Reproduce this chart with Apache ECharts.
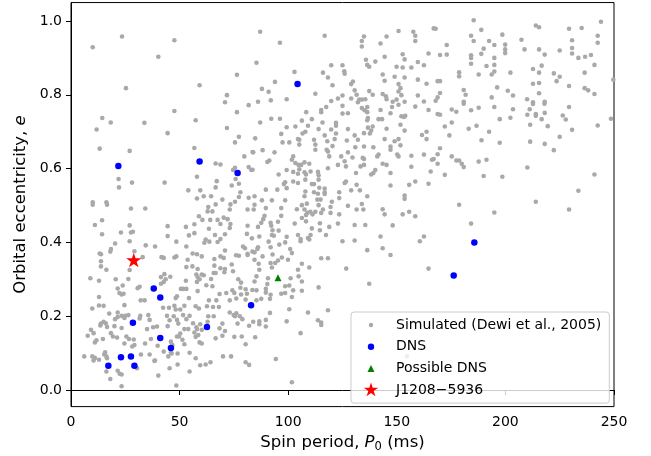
<!DOCTYPE html>
<html><head><meta charset="utf-8">
<script src="https://cdn.jsdelivr.net/npm/echarts@6/dist/echarts.min.js"></script>
<style>html,body{margin:0;padding:0;background:#fff}#c{width:651px;height:456px}</style>
</head><body><div id="c"></div>
<script>
const simulated = [
[10.0,0.929],[23.5,0.958],[47.6,0.948],[40.2,0.903],[76.4,0.854],[59.2,0.826],[25.3,0.818],[71.8,0.799],[70.9,0.780],
[87.1,0.971],[116.8,0.960],[96.2,0.941],[150.8,0.973],[157.6,0.971],[158.5,0.960],[158.5,0.946],[134.9,0.958],[133.9,0.946],[133.9,0.931],[145.3,0.958],[142.5,0.939],[167.0,0.980],[85.4,0.887],[164.6,0.912],[152.7,0.910],[144.4,0.903],[153.6,0.896],[135.8,0.895],[136.4,0.881],[137.3,0.876],[140.1,0.890],[119.8,0.880],[125.0,0.880],[149.9,0.876],[152.7,0.874],[156.7,0.874],[159.7,0.889],[162.5,0.880],[102.9,0.862],[116.0,0.860],[118.3,0.847],[125.8,0.864],[126.0,0.857],[143.5,0.855],[149.0,0.849],[153.6,0.847],[144.4,0.838],[159.7,0.841],[163.7,0.830],[150.8,0.829],[151.7,0.818],[150.8,0.809],[87.9,0.816],[91.0,0.808],[93.9,0.835],[120.4,0.826],[129.0,0.829],[129.8,0.836],[130.6,0.812],[137.3,0.810],[131.5,0.800],[125.0,0.798],[138.9,0.800],[143.5,0.802],[145.0,0.796],[152.1,0.799],[159.7,0.798],[112.5,0.803],[99.3,0.788],[92.0,0.785],[86.1,0.781],[119.8,0.783],[122.9,0.790],[129.0,0.790],[132.7,0.787],[133.9,0.787],[135.5,0.788],[132.1,0.780],[145.3,0.788],[148.1,0.781],[149.9,0.787],[153.6,0.781],[162.5,0.782],
[185.4,1.002],[167.9,0.979],[188.9,0.976],[184.2,0.960],[185.4,0.946],[198.6,0.963],[214.0,0.988],[215.5,0.983],[229.3,0.979],[235.1,0.981],[244.0,0.998],[242.5,0.960],[242.5,0.941],[173.0,0.935],[169.9,0.908],[173.0,0.909],[184.2,0.907],[184.2,0.900],[184.2,0.884],[188.9,0.911],[190.0,0.925],[192.5,0.946],[194.9,0.935],[194.9,0.900],[194.9,0.881],[194.9,0.863],[193.7,0.855],[191.3,0.878],[187.7,0.855],[199.9,0.936],[199.9,0.923],[199.9,0.913],[207.4,0.949],[208.8,0.923],[202.3,0.860],[215.5,0.923],[218.1,0.909],[216.7,0.879],[212.7,0.870],[215.5,0.860],[215.5,0.832],[212.7,0.830],[215.5,0.804],[225.0,0.920],[222.3,0.858],[225.0,0.849],[223.6,0.837],[230.7,0.948],[230.7,0.927],[230.7,0.912],[233.6,0.900],[236.7,0.903],[239.4,0.908],[241.0,0.881],[236.5,0.860],[229.3,0.824],[236.5,0.818],[238.1,0.812],[241.0,0.802],[249.7,0.841],[178.7,0.861],[178.7,0.850],[168.8,0.837],[169.9,0.837],[180.8,0.813],[181.7,0.800],[196.2,0.820],[201.1,0.811],[203.5,0.798],[193.7,0.793],[210.0,0.788],[212.7,0.780],[218.1,0.781],[169.9,0.805],[168.8,0.793],[167.9,0.784],[180.8,0.781],
[47.6,0.756],[14.4,0.737],[18.3,0.725],[11.8,0.706],[33.8,0.724],[44.5,0.696],[57.4,0.731],[71.8,0.710],[76.4,0.753],[81.8,0.772],[77.3,0.686],[75.5,0.671],[13.2,0.654],[27.0,0.648],[56.8,0.656],[79.8,0.633],[83.6,0.645],[66.6,0.614],[68.8,0.611],[75.5,0.602],[74.6,0.596],[81.8,0.604],[83.0,0.596],[58.0,0.578],[75.8,0.572],[67.1,0.566],[77.3,0.559],[74.0,0.554],[21.9,0.572],[22.1,0.549],[28.1,0.562],[43.1,0.562],[54.0,0.541],[59.5,0.541],[66.6,0.549],[78.0,0.536],[77.3,0.523],[61.1,0.525],[64.5,0.525],[58.0,0.519],[69.7,0.516],[75.5,0.510],[81.8,0.521],[16.3,0.509],[10.0,0.509],
[108.3,0.753],[115.2,0.759],[115.2,0.753],[117.5,0.767],[125.0,0.770],[125.0,0.749],[127.5,0.750],[133.9,0.764],[135.2,0.758],[136.4,0.767],[136.4,0.753],[142.5,0.759],[147.8,0.767],[147.1,0.750],[150.8,0.773],[158.5,0.768],[164.6,0.759],[136.7,0.737],[136.4,0.731],[141.6,0.734],[143.2,0.734],[152.1,0.742],[153.3,0.740],[153.9,0.743],[151.7,0.719],[153.6,0.703],[145.3,0.708],[136.7,0.711],[138.9,0.714],[138.2,0.703],[137.6,0.695],[134.9,0.696],[130.6,0.690],[127.5,0.707],[122.0,0.724],[122.0,0.716],[122.0,0.695],[119.8,0.706],[115.8,0.725],[114.0,0.707],[116.8,0.690],[110.9,0.734],[109.1,0.716],[107.9,0.700],[106.6,0.695],[106.3,0.730],[103.3,0.714],[99.3,0.712],[96.2,0.735],[92.2,0.735],[87.1,0.725],[96.8,0.694],[84.8,0.682],[97.4,0.671],[100.5,0.671],[104.5,0.680],[105.1,0.678],[105.1,0.665],[111.9,0.678],[112.5,0.665],[112.5,0.651],[118.0,0.674],[120.4,0.661],[121.4,0.680],[127.0,0.676],[130.9,0.658],[132.1,0.678],[134.9,0.660],[139.2,0.658],[144.4,0.680],[147.1,0.660],[147.1,0.651],[149.0,0.674],[150.8,0.680],[151.7,0.663],[161.6,0.691],[163.7,0.700],[163.7,0.680],[88.2,0.650],[83.9,0.644],[93.7,0.644],[91.3,0.622],[90.4,0.618],[102.3,0.633],[101.7,0.624],[103.3,0.615],[104.8,0.610],[106.0,0.610],[107.5,0.617],[109.7,0.613],[118.3,0.646],[118.9,0.633],[117.7,0.651],[127.5,0.644],[124.4,0.633],[126.0,0.620],[129.6,0.630],[126.6,0.606],[122.9,0.610],[134.3,0.629],[134.9,0.626],[133.3,0.606],[131.2,0.588],[134.9,0.610],[140.1,0.596],[138.2,0.584],[139.2,0.588],[141.0,0.633],[141.6,0.638],[143.5,0.613],[145.3,0.610],[147.1,0.588],[150.2,0.638],[150.8,0.633],[156.7,0.635],[156.7,0.605],[162.5,0.638],[166.2,0.624],[165.6,0.592],[99.3,0.596],[95.6,0.584],[102.3,0.591],[104.5,0.586],[105.1,0.598],[107.5,0.590],[108.2,0.584],[110.3,0.592],[113.7,0.591],[114.0,0.582],[118.3,0.601],[107.9,0.570],[104.5,0.561],[102.3,0.565],[98.6,0.563],[98.0,0.558],[99.3,0.547],[89.7,0.543],[95.0,0.543],[110.9,0.558],[111.9,0.558],[114.0,0.570],[114.3,0.548],[116.8,0.546],[116.8,0.536],[116.8,0.531],[113.7,0.532],[111.9,0.536],[107.9,0.538],[107.5,0.525],[113.4,0.516],[114.9,0.516],[98.6,0.514],[92.5,0.514],[87.9,0.514],[84.5,0.525],[120.1,0.510],[123.5,0.536],[123.5,0.520],[126.0,0.561],[126.6,0.565],[129.0,0.541],[131.5,0.556],[133.0,0.541],[136.4,0.525],[147.1,0.554],[153.6,0.527],[153.6,0.518],[155.7,0.556],[158.5,0.565],[164.6,0.559],[83.6,0.597],
[180.8,0.776],[175.3,0.760],[177.4,0.754],[168.8,0.748],[169.9,0.746],[184.2,0.758],[187.7,0.765],[194.9,0.767],[203.5,0.761],[211.2,0.761],[212.7,0.775],[218.0,0.776],[210.1,0.746],[214.0,0.748],[214.0,0.743],[218.1,0.751],[216.7,0.734],[202.3,0.738],[197.4,0.734],[175.3,0.725],[172.1,0.714],[183.1,0.708],[186.7,0.716],[192.5,0.700],[211.4,0.719],[219.5,0.715],[226.4,0.744],[227.8,0.733],[229.3,0.767],[230.7,0.705],[242.5,0.717],[248.6,0.735],[174.2,0.690],[189.0,0.677],[197.4,0.670],[211.4,0.673],[218.1,0.667],[225.0,0.686],[222.3,0.650],[169.9,0.655],[168.8,0.639],[175.3,0.633],[177.4,0.622],[178.7,0.622],[179.9,0.613],[180.8,0.604],[168.8,0.613],[167.0,0.626],[187.7,0.619],[191.3,0.624],[172.1,0.583],[190.0,0.580],[198.6,0.578],[210.1,0.603],[241.0,0.584],[233.6,0.540],[214.0,0.510],
[10.0,0.502],[16.6,0.502],[27.6,0.492],[34.2,0.492],[14.3,0.460],[11.0,0.447],[27.0,0.446],[28.5,0.429],[27.6,0.427],[23.0,0.427],[14.3,0.422],[44.5,0.444],[44.5,0.417],[20.3,0.397],[18.4,0.382],[18.1,0.375],[27.0,0.403],[34.4,0.392],[38.7,0.389],[29.2,0.376],[13.2,0.370],[13.8,0.368],[13.8,0.349],[13.8,0.335],[16.3,0.326],[33.0,0.360],[27.0,0.325],[41.7,0.360],[42.7,0.358],[47.6,0.359],[48.5,0.362],[8.9,0.303],[12.9,0.296],[20.6,0.300],[26.4,0.301],[23.8,0.283],[21.5,0.275],[22.3,0.263],[23.3,0.259],[24.2,0.261],[30.7,0.276],[31.6,0.280],[12.9,0.252],[32.1,0.243],[33.9,0.243],[41.4,0.306],[43.0,0.314],[42.7,0.293],[43.6,0.300],[45.7,0.307],[41.4,0.288],[48.5,0.402],[52.9,0.442],[54.3,0.419],[56.8,0.449],[56.8,0.425],[53.1,0.389],[56.0,0.370],[58.0,0.368],[60.2,0.362],[53.7,0.353],[53.1,0.333],[55.9,0.335],[58.3,0.328],[57.7,0.313],[58.3,0.306],[59.2,0.300],[58.0,0.293],[60.2,0.313],[61.1,0.311],[62.3,0.284],[58.3,0.268],[52.9,0.296],[51.6,0.274],[53.1,0.274],[54.3,0.249],[48.2,0.249],[62.0,0.408],[61.4,0.399],[63.7,0.402],[67.5,0.401],[66.3,0.420],[63.5,0.437],[64.1,0.461],[58.9,0.471],[60.5,0.461],[63.2,0.496],[65.1,0.484],[62.9,0.484],[68.8,0.409],[70.9,0.422],[70.9,0.378],[68.8,0.362],[66.0,0.355],[70.3,0.358],[66.0,0.337],[68.8,0.330],[65.7,0.317],[66.6,0.317],[70.9,0.328],[74.6,0.322],[70.6,0.319],[74.0,0.340],[76.0,0.365],[77.3,0.364],[79.2,0.389],[80.1,0.384],[81.3,0.366],[81.3,0.369],[83.5,0.375],[81.0,0.423],[81.3,0.445],[84.1,0.489],[81.3,0.489],[73.4,0.450],[73.1,0.439],[70.3,0.467],[72.1,0.463],[73.1,0.489],[68.8,0.450],[67.5,0.461],[66.6,0.503],[73.4,0.503],[77.0,0.300],[78.3,0.291],[78.0,0.277],[80.4,0.273],[81.0,0.261],[83.5,0.271],[78.3,0.259],[75.2,0.263],[74.3,0.270],[71.5,0.263],[68.4,0.260],[66.9,0.243],[63.5,0.243],[80.4,0.245],[76.1,0.248],[73.1,0.243],[65.1,0.281],[64.5,0.301],[50.6,0.274],[48.8,0.254],
[84.5,0.502],[89.7,0.493],[96.8,0.493],[104.0,0.490],[106.3,0.501],[108.6,0.505],[107.5,0.489],[108.8,0.480],[108.2,0.474],[110.2,0.483],[111.2,0.476],[112.5,0.483],[114.0,0.501],[115.2,0.480],[116.0,0.489],[119.5,0.496],[119.5,0.480],[123.5,0.476],[127.5,0.499],[131.5,0.489],[134.6,0.489],[133.9,0.504],[143.5,0.490],[144.4,0.476],[152.7,0.476],[155.7,0.483],[158.5,0.471],[89.1,0.472],[88.5,0.463],[96.8,0.472],[106.3,0.466],[86.1,0.442],[87.6,0.453],[91.9,0.453],[92.2,0.445],[95.3,0.456],[95.6,0.432],[92.8,0.433],[92.5,0.420],[93.4,0.418],[99.3,0.415],[103.0,0.451],[108.2,0.457],[110.9,0.438],[114.6,0.452],[114.6,0.433],[118.9,0.442],[122.9,0.451],[130.6,0.447],[135.5,0.447],[148.1,0.446],[104.5,0.420],[105.7,0.409],[105.7,0.403],[109.1,0.412],[109.7,0.408],[110.3,0.420],[117.4,0.420],[125.0,0.403],[130.6,0.405],[142.5,0.416],[162.5,0.416],[160.6,0.403],[86.7,0.416],[83.3,0.411],[91.0,0.402],[91.9,0.387],[86.1,0.387],[85.8,0.382],[95.9,0.394],[98.6,0.400],[100.9,0.382],[101.7,0.371],[88.2,0.362],[84.5,0.373],[84.5,0.353],[92.8,0.367],[97.1,0.359],[99.9,0.353],[95.3,0.351],[94.0,0.344],[91.9,0.344],[86.4,0.342],[92.5,0.332],[86.7,0.326],[106.3,0.342],[109.7,0.332],[104.5,0.326],[115.2,0.357],[118.3,0.357],[136.4,0.379],[143.5,0.384],[147.1,0.366],[126.7,0.329],[164.6,0.329],[137.3,0.288],[85.4,0.308],[84.5,0.294],[90.7,0.303],[90.4,0.287],[101.1,0.303],[104.8,0.308],[106.3,0.294],[98.6,0.281],[100.5,0.283],[102.3,0.270],[106.3,0.269],[114.0,0.278],[89.7,0.274],[89.7,0.264],[85.4,0.270],[91.9,0.258],[96.8,0.261],[98.6,0.263],[101.7,0.252],[91.6,0.247],[87.6,0.247],[85.4,0.243],
[178.7,0.502],[194.9,0.481],[229.3,0.489],[184.2,0.451],
[9.8,0.221],[12.9,0.229],[15.0,0.228],[17.6,0.207],[21.5,0.210],[24.6,0.230],[21.5,0.198],[20.3,0.192],[23.3,0.201],[24.9,0.201],[24.6,0.195],[26.4,0.203],[31.9,0.201],[31.6,0.194],[35.6,0.203],[36.2,0.190],[15.0,0.185],[13.8,0.180],[16.0,0.181],[13.5,0.175],[16.6,0.171],[20.0,0.173],[23.3,0.168],[9.2,0.163],[10.4,0.154],[7.7,0.147],[18.4,0.154],[19.3,0.145],[14.7,0.138],[11.7,0.135],[11.0,0.129],[21.2,0.142],[25.5,0.145],[26.7,0.138],[24.6,0.126],[28.9,0.137],[28.2,0.118],[29.2,0.122],[35.0,0.165],[34.1,0.126],[37.8,0.170],[39.6,0.172],[42.4,0.223],[45.1,0.223],[44.2,0.201],[47.6,0.228],[48.2,0.218],[47.3,0.200],[45.4,0.189],[44.5,0.173],[48.8,0.190],[49.4,0.180],[50.3,0.218],[52.2,0.228],[51.6,0.203],[53.1,0.192],[54.6,0.201],[50.3,0.153],[49.7,0.145],[51.3,0.136],[48.8,0.145],[52.2,0.165],[54.0,0.165],[56.2,0.181],[57.7,0.170],[58.0,0.165],[59.5,0.178],[60.2,0.163],[58.6,0.149],[57.4,0.144],[56.8,0.156],[59.2,0.129],[60.2,0.126],[52.2,0.124],[46.0,0.131],[46.7,0.122],[42.7,0.104],[46.0,0.102],[44.8,0.091],[46.3,0.099],[49.1,0.099],[54.6,0.101],[57.4,0.086],[32.2,0.096],[36.2,0.096],[38.7,0.080],[36.8,0.138],[39.9,0.120],[45.4,0.059],[49.1,0.069],[54.6,0.050],[48.5,0.012],[40.2,0.039],[59.5,0.067],[62.0,0.069],[64.2,0.075],[57.4,0.227],[58.9,0.221],[62.6,0.227],[65.4,0.225],[68.1,0.225],[63.2,0.200],[65.7,0.200],[62.9,0.185],[69.7,0.180],[68.4,0.167],[70.9,0.160],[66.6,0.140],[69.7,0.147],[73.1,0.210],[74.9,0.203],[76.1,0.208],[75.5,0.200],[77.7,0.200],[76.7,0.180],[82.0,0.174],[78.9,0.192],[78.6,0.145],[75.2,0.144],[80.4,0.124],[70.0,0.091],[73.7,0.091],[80.4,0.075],[82.0,0.068],[6.1,0.091],[9.8,0.091],[11.0,0.087],[10.4,0.080],[12.9,0.082],[15.7,0.102],[16.3,0.091],[16.6,0.086],[15.3,0.096],[16.3,0.050],[21.5,0.052],[22.4,0.044],[23.3,0.042],[18.1,0.030],[23.3,0.010],[30.4,0.059],[38.4,0.079],
[83.9,0.185],[86.7,0.186],[86.7,0.178],[89.7,0.190],[89.7,0.172],[91.6,0.209],[100.5,0.219],[99.3,0.186],[109.1,0.210],[118.3,0.216],[113.7,0.189],[115.2,0.183],[115.2,0.176],[105.7,0.154],[84.8,0.143],[94.3,0.084],[101.7,0.021],[154.7,0.091]
];
const dns = [[104.3,0.829],[21.8,0.607],[59.2,0.619],[76.7,0.588],[185.7,0.400],[176.2,0.310],[38.1,0.275],[41.1,0.251],[82.9,0.230],[28.5,0.182],[41.1,0.141],[46.0,0.114],[62.6,0.171],[23.0,0.089],[27.6,0.091],[17.2,0.066],[29.2,0.066]];
const possibleDns = [[95.3,0.304]];
const j1208 = [[28.9,0.350]];
const xTicks = [0,50,100,150,200,250];
const yTicks = [0,0.2,0.4,0.6,0.8,1.0];
const names = ['Simulated (Dewi et al., 2005)','DNS','Possible DNS','J1208\u22125936'];

const FONT = 'DejaVu Sans';
const starSym = 'path://M-10 -10 M10 10 M0 -10 L2.245 -3.09 L9.51 -3.09 L3.63 1.18 L5.88 8.09 L0 3.82 L-5.88 8.09 L-3.63 1.18 L-9.51 -3.09 L-2.245 -3.09 Z';
const box = 'M0 0 M40 16 ';
const legIcons = [
  'path://' + box + 'M17.8 8 A2.2 2.2 0 1 1 22.2 8 A2.2 2.2 0 1 1 17.8 8 Z',
  'path://' + box + 'M16.8 8 A3.2 3.2 0 1 1 23.2 8 A3.2 3.2 0 1 1 16.8 8 Z',
  'path://' + box + 'M20 4.5 L23.5 11.5 L16.5 11.5 Z',
  'path://' + box + 'M20 0.5 L21.68 5.68 L27.13 5.68 L22.72 8.89 L24.41 14.07 L20 10.87 L15.59 14.07 L17.28 8.89 L12.87 5.68 L18.32 5.68 Z'
];

const chart = echarts.init(document.getElementById('c'), null, {renderer: 'canvas'});
chart.setOption({
  animation: false,
  backgroundColor: '#ffffff',
  textStyle: {fontFamily: FONT},
  grid: {left: 71, right: 37, top: 2.55, bottom: 49.4, show: true, borderColor: '#000', borderWidth: 1,
         containLabel: false, outerBoundsMode: 'none'},
  xAxis: {
    type: 'value', min: 0, max: 250, interval: 50,
    name: '{a|Spin period, }{i|P}{s|0}{a| (ms)}', nameLocation: 'middle', nameGap: 22,
    nameTextStyle: {rich: {
      a: {fontFamily: FONT, fontSize: 16.5, color: '#000'},
      i: {fontFamily: FONT, fontSize: 16.5, fontStyle: 'italic', color: '#000'},
      s: {fontFamily: FONT, fontSize: 11.5, color: '#000', padding: [9, 0, 0, 0]}
    }},
    axisLine: {show: true, lineStyle: {color: '#000', width: 1}},
    axisTick: {show: true, length: 5, lineStyle: {color: '#000', width: 1}},
    axisLabel: {margin: 9, fontFamily: FONT, fontSize: 14, color: '#000', formatter: v => String(v)},
    splitLine: {show: false}
  },
  yAxis: {
    type: 'value', min: -0.045, max: 1.05,
    name: '{a|Orbital eccentricity, }{i|e}', nameLocation: 'middle', nameGap: 38, nameRotate: 90,
    nameTextStyle: {rich: {
      a: {fontFamily: FONT, fontSize: 16.5, color: '#000'},
      i: {fontFamily: FONT, fontSize: 16.5, fontStyle: 'italic', color: '#000'}
    }},
    axisLine: {show: true, lineStyle: {color: '#000', width: 1}},
    axisTick: {show: true, length: 5, customValues: yTicks, lineStyle: {color: '#000', width: 1}},
    axisLabel: {margin: 9, fontFamily: FONT, fontSize: 14, color: '#000', customValues: yTicks, formatter: v => Number(v).toFixed(1)},
    splitLine: {show: false}
  },
  legend: {
    orient: 'vertical', left: 351, top: 312,
    padding: [5, 8, 5, 0], itemGap: 5.7, itemWidth: 40, itemHeight: 16,
    backgroundColor: 'rgba(255,255,255,0.8)', borderColor: '#cccccc', borderWidth: 1, borderRadius: 3,
    textStyle: {fontFamily: FONT, fontSize: 14, color: '#000', padding: [0, 0, 0, 0]},
    selectedMode: false,
    data: names.map((n, i) => ({name: n, icon: legIcons[i]}))
  },
  series: [
    {name: names[0], type: 'scatter', data: simulated, symbol: 'circle', symbolSize: 4.6,
     itemStyle: {color: '#a9a9a9', opacity: 1}, z: 2},
    {name: names[1], type: 'scatter', data: dns, symbol: 'circle', symbolSize: 6.5,
     itemStyle: {color: '#0000ff', opacity: 1}, z: 3},
    {name: names[2], type: 'scatter', data: possibleDns, symbol: 'triangle', symbolSize: 7,
     itemStyle: {color: '#008000', opacity: 1}, z: 4},
    {name: names[3], type: 'scatter', data: j1208, symbol: starSym, symbolSize: 16, symbolKeepAspect: true,
     itemStyle: {color: '#ff0000', opacity: 1}, z: 5}
  ]
});
</script>
</body></html>
